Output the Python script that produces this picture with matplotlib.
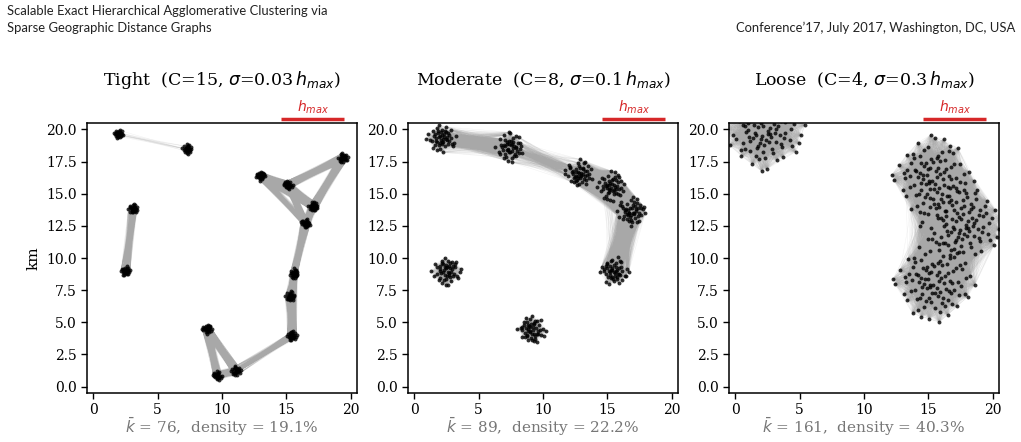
import numpy as np
import matplotlib
matplotlib.use("Agg")
import matplotlib.pyplot as plt
from matplotlib.collections import LineCollection
import matplotlib.transforms as mtransforms

plt.rcParams['font.family'] = ['DejaVu Serif']

# edge radius of the sparse graph (km) and the drawn h_max scale bar
H_MAX = 5.0
BAR = (14.6, 19.5)

# hand-read unit offsets (shape of one cluster)
OFFSETS = [
    (0.12, -0.45), (-1.03, 0.31), (0.57, 0.88), (-0.22, -1.41), (1.35, 0.07), (-0.68, -0.54), (0.04, 1.22), (0.91, -0.83), (-1.52, -0.19), (0.33, 0.16),
    (-0.41, 0.72), (1.78, -0.61), (-0.09, -0.27), (0.66, 1.59), (-1.21, 1.04), (0.48, -1.12), (-0.77, 0.05), (1.09, 0.43), (-0.35, -0.88), (0.21, -0.02),
    (-1.89, 0.58), (0.83, -0.24), (-0.14, 0.39), (1.27, 1.18), (-0.58, -1.66), (0.02, -0.71), (-0.96, -0.93), (0.39, 0.61), (1.61, -1.05), (-0.27, 1.83),
    (0.74, 0.22), (-1.37, -0.42), (0.15, -1.93), (-0.49, 0.97), (1.02, -0.37), (-0.85, 0.66), (0.28, -0.55), (-0.03, 0.84), (2.05, 0.29), (-1.12, -1.27),
    (0.59, -0.09), (-0.63, 1.41), (0.94, 0.74), (-0.18, -0.63), (-2.11, -0.08), (0.45, 1.05), (-0.31, 0.18), (1.44, -0.78), (-0.72, -0.31), (0.08, 0.53),
    (0.67, -1.47), (-1.58, 0.89), (0.36, -0.33), (-0.05, -1.09), (1.16, 0.93), (-0.93, 0.24), (0.25, 1.38), (-0.44, -0.12), (1.88, -0.22), (-1.26, 0.47),
    (0.53, 0.35), (-0.11, -2.02), (0.87, -0.66), (-0.66, 1.12), (0.19, -0.18), (-1.71, -0.73), (1.23, 0.56), (-0.37, -1.25), (0.71, 1.27), (-0.88, -0.06),
    (0.42, -0.91), (-0.24, 0.57), (1.53, 0.34), (-1.05, -0.61), (0.11, 0.95), (-0.54, -0.39), (0.97, -1.31), (-1.44, 1.29), (0.31, -0.15), (-0.16, 1.62),
    (1.32, -0.47), (-0.81, 0.41), (0.62, 0.08), (-0.29, -0.79), (-1.98, 0.12), (0.78, 1.71), (-0.47, 0.28), (1.07, -0.11), (-0.12, -0.44), (0.49, 0.79),
    (-1.15, -0.98), (0.86, 0.47), (-0.71, -1.04), (0.18, 2.08), (1.69, 0.71), (-0.39, -0.21), (0.06, -1.36), (-1.31, 0.83), (0.64, -0.58), (-0.02, 0.26),
]

# Tight panel
tight_centers = [(1.95, 19.65), (7.3, 18.5), (3.1, 13.8), (2.5, 9.0), (13.0, 16.4),
                 (15.1, 15.7), (19.4, 17.8), (17.1, 14.0), (16.5, 12.7), (15.6, 8.8),
                 (15.3, 7.0), (15.45, 3.95), (8.85, 4.5), (9.6, 0.85), (11.1, 1.25)]
tight_counts = [27, 26, 27, 27, 27, 26, 27, 27, 26, 27, 27, 26, 27, 26, 27]
tight_sigma = 0.19

# Moderate panel
moderate_centers = [(2.1, 19.3), (7.4, 18.6), (12.8, 16.5), (15.3, 15.6),
                    (16.9, 13.6), (15.5, 9.0), (2.5, 9.0), (9.1, 4.4)]
moderate_counts = [50, 50, 50, 50, 50, 50, 50, 50]
moderate_sigma = 0.56

# Loose panel
loose_centers = [(2.2, 19.9), (15.3, 16.3), (17.6, 12.6), (15.4, 8.2)]
loose_counts = [100, 100, 100, 100]
loose_sigma = 1.55

titles = ["Tight  (C=15, $\\sigma$=0.03$\\,h_{max}$)",
          "Moderate  (C=8, $\\sigma$=0.1$\\,h_{max}$)",
          "Loose  (C=4, $\\sigma$=0.3$\\,h_{max}$)"]
stats = ["$\\bar{k}$ = 76,  density = 19.1%",
         "$\\bar{k}$ = 89,  density = 22.2%",
         "$\\bar{k}$ = 161,  density = 40.3%"]
ticks = [0, 5, 10, 15, 20]


def build_points(centers, counts, sigma):
    off = np.array(OFFSETS)
    pts = []
    for i, ((cx, cy), n) in enumerate(zip(centers, counts)):
        idx = [(i * 37 + j) % len(off) for j in range(n)]
        o = off[idx]
        if i % 2:
            o = o[:, ::-1] * [1, -1]
        pts.append(np.column_stack([cx + sigma * o[:, 0], cy + sigma * o[:, 1]]))
    return np.vstack(pts)


def edges(pts, r):
    d = np.hypot(pts[:, None, 0] - pts[None, :, 0], pts[:, None, 1] - pts[None, :, 1])
    i, j = np.where(np.triu(d < r, 1))
    return np.stack([pts[i], pts[j]], axis=1)


fig = plt.figure(figsize=(10.21, 4.42), dpi=100)
W, H = 1021, 442
lefts = [87, 408, 729]
side = 270
panels = [(tight_centers, tight_counts, tight_sigma),
          (moderate_centers, moderate_counts, moderate_sigma),
          (loose_centers, loose_counts, loose_sigma)]

for k, (centers, counts, sigma) in enumerate(panels):
    ax = fig.add_axes([lefts[k] / W, (H - 393) / H, side / W, side / H])
    pts = build_points(centers, counts, sigma)
    segs = edges(pts, H_MAX)
    ax.add_collection(LineCollection(segs, colors='#a8a8a8', linewidths=0.35, alpha=0.16, zorder=1))
    ax.scatter(pts[:, 0], pts[:, 1], s=8, c='black', alpha=0.8, linewidths=0, zorder=2)
    ax.set_xlim(-0.5, 20.5)
    ax.set_ylim(-0.5, 20.5)
    ax.set_xticks(ticks)
    ax.set_yticks(np.arange(0, 20.1, 2.5))
    ax.tick_params(labelsize=10, length=4, width=1)
    for s in ax.spines.values():
        s.set_linewidth(1.1)
    if k == 0:
        ax.set_ylabel("km", fontsize=11, labelpad=4)
    ax.text(0.5, 1.16, titles[k], transform=ax.transAxes, ha='center', va='center', fontsize=12.5)
    trans = mtransforms.blended_transform_factory(ax.transData, ax.transAxes)
    ax.plot(BAR, [1.016, 1.016], color='#d62728', lw=2.5, transform=trans, clip_on=False, solid_capstyle='butt')
    ax.text(sum(BAR) / 2, 1.058, "$h_{max}$", transform=trans, ha='center', va='center',
            color='#d62728', fontsize=10)
    ax.text(0.5, -0.127, stats[k], transform=ax.transAxes, ha='center', va='center',
            fontsize=11, color='#777777')

fig.text(7 / W, 1 - 11 / H, "Scalable Exact Hierarchical Agglomerative Clustering via",
         family='Lato', fontsize=9.4, va='center', ha='left', color='#222222')
fig.text(7 / W, 1 - 28 / H, "Sparse Geographic Distance Graphs",
         family='Lato', fontsize=9.4, va='center', ha='left', color='#222222')
fig.text(1015 / W, 1 - 28 / H, "Conference\u201917, July 2017, Washington, DC, USA",
         family='Lato', fontsize=9.4, va='center', ha='right', color='#222222')

fig.savefig("out.png", dpi=100)
